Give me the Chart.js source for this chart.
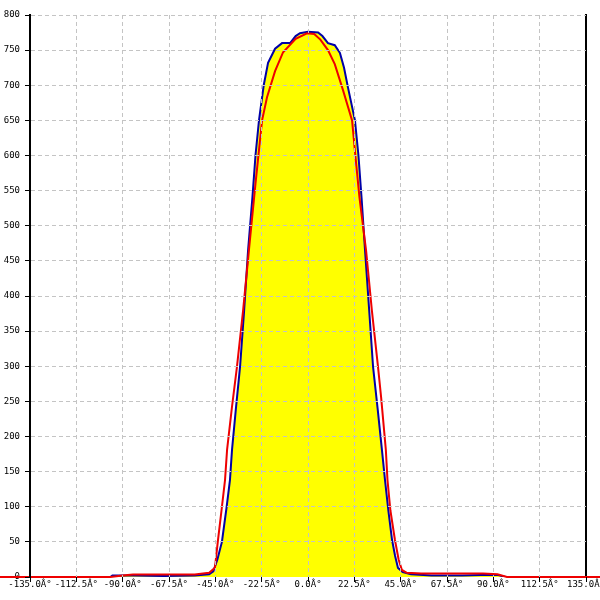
<!DOCTYPE html>
<html>
<head>
<meta charset="utf-8">
<script src="https://cdn.jsdelivr.net/npm/chart.js@4"></script>
<style>
  body { margin: 0; background: #fff; }
</style>
</head>
<body>
<canvas id="c" width="600" height="600"></canvas>
<script>
'use strict';

// blue curve (filled yellow)
const blueAngles = [-96, -95, -85, -70, -55, -48, -46, -44, -41.8, -39.5, -37.9, -36.9, -35, -33, -31, -29.1, -27, -25.5,
    -23.8, -21.5, -19.4, -16, -12.6, -8.7, -6, -3.9, 0, 4.9, 7, 9.7, 13, 15.5, 17.5, 19.4, 22.8, 24.5, 26, 27.7,
    29.7, 31.6, 33.8, 35.9, 37.4, 39, 40.8, 42.3, 43.7, 46, 50, 60, 75, 84, 92, 96];
const blueValues = [0, 2, 2, 1.5, 2, 4, 8, 25, 50, 100, 138, 181, 240, 299, 380, 465, 540, 600,
    650, 700, 732, 752, 760, 760, 770, 774, 776, 775, 770, 760, 757, 746, 725, 697, 650, 600, 540, 465,
    380, 299, 240, 181, 138, 95, 53, 30, 13, 7, 4, 2, 2, 3, 3, 0];

// red curve
const redAngles = [-180, -96, -90, -85, -70, -55, -48, -45.2, -43.7, -42, -40.3, -39.3, -37, -34.5, -31.5, -28.7, -25.5,
    -22.3, -19.9, -16, -12.1, -6, -0.5, 3, 6, 9.7, 13, 17, 21.4, 23, 25, 28.2, 31, 34, 35.5, 37.8, 38.6, 40,
    42.2, 44, 45.6, 48, 55, 70, 85, 92, 96.6, 180];
const redValues = [0, 0, 2, 3.5, 3.5, 3.5, 6, 13, 53, 95, 138, 181, 240, 299, 380, 465, 560,
    650, 683, 720, 747, 766, 774, 773, 765, 750, 730, 693, 650, 600, 540, 465, 380, 299, 256, 181, 138, 95,
    53, 25, 10, 6, 5, 5, 5, 4, 0, 0];

const xTickStep = 22.5;
const yTickStep = 50;

const tickFont = { family: 'DejaVu Sans Mono', size: 9 };

function toPoints(xs, ys) {
    return xs.map((x, i) => ({ x: x, y: ys[i] }));
}

const ctx = document.getElementById('c').getContext('2d');

new Chart(ctx, {
    type: 'line',
    data: {
        datasets: [{
            data: toPoints(redAngles, redValues),
            borderColor: '#ee0000',
            borderWidth: 2,
            pointRadius: 0,
            fill: false,
            clip: false,
            tension: 0
        }, {
            data: toPoints(blueAngles, blueValues),
            borderColor: '#0000a8',
            borderWidth: 2,
            backgroundColor: '#ffff00',
            pointRadius: 0,
            fill: 'origin',
            tension: 0
        }]
    },
    options: {
        responsive: false,
        animation: false,
        devicePixelRatio: 1,
        layout: { padding: { top: 15, left: 0, right: 0, bottom: 0 } },
        plugins: {
            legend: { display: false },
            tooltip: { enabled: false }
        },
        scales: {
            x: {
                type: 'linear',
                min: -135,
                max: 135,
                ticks: {
                    stepSize: xTickStep,
                    autoSkip: false,
                    maxRotation: 0,
                    padding: -3,
                    color: '#000',
                    font: tickFont,
                    callback: v => v.toFixed(1) + 'Â°'
                },
                grid: {
                    z: 1,
                    color: c => (c.tick && Math.abs(c.tick.value) === 135) ? 'rgba(0,0,0,0)' : '#c4c4c4',
                    tickColor: '#000',
                    tickLength: 5
                },
                border: { display: false, dash: [4, 3] },
                afterFit: s => { s.height = 23; s.paddingLeft = 0; s.paddingRight = 0; }
            },
            y: {
                min: 0,
                max: 800,
                ticks: {
                    stepSize: yTickStep,
                    padding: 5,
                    color: '#000',
                    font: tickFont
                },
                grid: {
                    z: 1,
                    color: c => (c.tick && c.tick.value === 0) ? 'rgba(0,0,0,0)' : '#c4c4c4',
                    tickColor: '#000',
                    tickLength: 5
                },
                // border after grid so its position is known
                border: { color: '#000', width: 2, dash: [4, 3], z: 1 },
                afterFit: s => { s.width = 30; }
            },
            y2: {
                position: 'right',
                min: 0,
                max: 800,
                ticks: { display: false },
                grid: { drawOnChartArea: false, drawTicks: false },
                border: { color: '#000', width: 2 },
                afterFit: s => { s.width = 14; }
            }
        }
    }
});
</script>
</body>
</html>
